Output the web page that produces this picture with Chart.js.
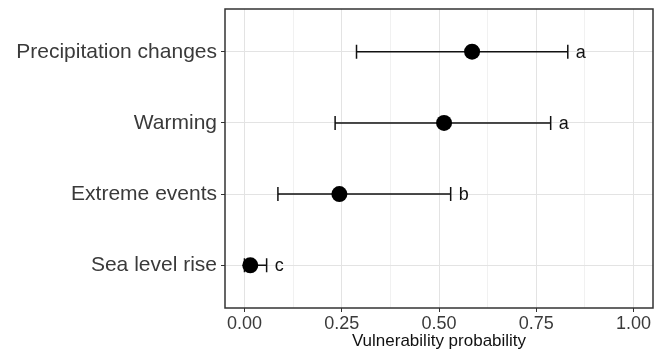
<!DOCTYPE html>
<html>
<head>
<meta charset="utf-8">
<script src="https://cdn.jsdelivr.net/npm/chart.js@4"></script>
<style>
  body { margin: 0; background: #fff; }
  #wrap { width: 662px; height: 352px; position: relative; }
</style>
</head>
<body>
<div id="wrap"><canvas id="chart"></canvas></div>
<script>
// Data
const categories = ['Precipitation changes', 'Warming', 'Extreme events', 'Sea level rise'];
const estimates = [0.585, 0.513, 0.244, 0.015];
const lowerCI = [0.288, 0.233, 0.086, 0.0];
const upperCI = [0.831, 0.787, 0.530, 0.057];
const groupLetters = ['a', 'a', 'b', 'c'];

const xMajorTicks = [0, 0.25, 0.5, 0.75, 1];
const xMinorTicks = [0.125, 0.375, 0.625, 0.875];
const xTickLabels = ['0.00', '0.25', '0.50', '0.75', '1.00'];

const FONT = 'Liberation Sans, Arial, sans-serif';

// error bars + significance letters
const errorBarPlugin = {
    id: 'errorBars',
    beforeDatasetsDraw(chart) {
        const { ctx, scales: { x, y } } = chart;
        ctx.save();
        ctx.strokeStyle = '#111';
        ctx.lineWidth = 1.5;
        categories.forEach((c, i) => {
            const py = y.getPixelForValue(i);
            const x0 = x.getPixelForValue(lowerCI[i]);
            const x1 = x.getPixelForValue(upperCI[i]);
            ctx.beginPath();
            ctx.moveTo(x0, py);
            ctx.lineTo(x1, py);
            ctx.moveTo(x0, py - 7);
            ctx.lineTo(x0, py + 7);
            ctx.moveTo(x1, py - 7);
            ctx.lineTo(x1, py + 7);
            ctx.stroke();
        });
        ctx.restore();
    },
    afterDatasetsDraw(chart) {
        const { ctx, scales: { x, y } } = chart;
        ctx.save();
        ctx.font = '18px ' + FONT;
        ctx.fillStyle = '#111';
        ctx.textAlign = 'left';
        ctx.textBaseline = 'middle';
        groupLetters.forEach((g, i) => {
            ctx.fillText(g, x.getPixelForValue(upperCI[i]) + 8, y.getPixelForValue(i) + 1);
        });
        ctx.restore();
    },
    afterDraw(chart) {
        const { ctx, chartArea: a } = chart;
        ctx.save();
        ctx.strokeStyle = '#333';
        ctx.lineWidth = 1.5;
        ctx.strokeRect(a.left, a.top, a.right - a.left, a.bottom - a.top);
        ctx.restore();
    }
};

const isMinor = (v) => xMinorTicks.some(m => Math.abs(m - v) < 1e-9);

new Chart(document.getElementById('chart'), {
    type: 'scatter',
    data: {
        datasets: [{
            data: estimates.map((v, i) => ({ x: v, y: i })),
            backgroundColor: '#000',
            borderWidth: 0,
            pointRadius: 8,
            pointHoverRadius: 8
        }]
    },
    options: {
        responsive: true,
        maintainAspectRatio: false,
        animation: false,
        layout: { padding: { top: 9, right: 9, left: 0, bottom: 0 } },
        plugins: {
            legend: { display: false },
            tooltip: { enabled: false }
        },
        scales: {
            x: {
                type: 'linear',
                min: -0.05,
                max: 1.05,
                afterBuildTicks(scale) {
                    scale.ticks = [...xMajorTicks, ...xMinorTicks].sort((a, b) => a - b).map(v => ({ value: v }));
                },
                afterFit(scale) {
                    scale.height = 44;
                    scale.paddingLeft = 0;
                    scale.paddingRight = 0;
                },
                border: { display: false },
                grid: {
                    color: (ctx) => isMinor(ctx.tick.value) ? '#f1f1f1' : '#e3e3e3',
                    lineWidth: 1,
                    tickColor: (ctx) => isMinor(ctx.tick.value) ? 'rgba(0,0,0,0)' : '#333',
                    tickLength: 4
                },
                ticks: {
                    autoSkip: false,
                    maxRotation: 0,
                    padding: 1,
                    color: '#3a3a3a',
                    font: { family: FONT, size: 18 },
                    callback: (v) => {
                        const k = xMajorTicks.findIndex(t => Math.abs(t - v) < 1e-9);
                        return k >= 0 ? xTickLabels[k] : '';
                    }
                },
                title: {
                    display: true,
                    text: 'Vulnerability probability',
                    color: '#111',
                    font: { family: FONT, size: 17 },
                    padding: { top: 0, bottom: 0 }
                }
            },
            y: {
                type: 'linear',
                reverse: true,
                min: -0.6,
                max: categories.length - 1 + 0.6,
                afterBuildTicks(scale) {
                    scale.ticks = categories.map((c, i) => ({ value: i }));
                },
                afterFit(scale) {
                    scale.width = 225;
                    scale.paddingTop = 0;
                    scale.paddingBottom = 0;
                },
                border: { display: false },
                grid: {
                    color: '#e3e3e3',
                    lineWidth: 1,
                    tickColor: '#333',
                    tickLength: 4
                },
                ticks: {
                    autoSkip: false,
                    padding: 4,
                    color: '#3a3a3a',
                    font: { family: FONT, size: 21 },
                    callback: (v) => categories[v] ?? ''
                }
            }
        }
    },
    plugins: [errorBarPlugin]
});
</script>
</body>
</html>
